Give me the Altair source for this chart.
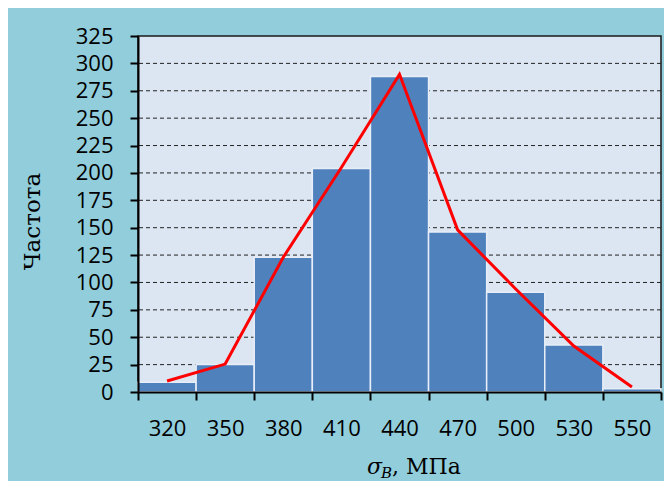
import altair as alt
import pandas as pd

# ---- data ----
categories = ["320", "350", "380", "410", "440", "470", "500", "530", "550"]
frequency = [9, 25, 123, 204, 288, 146, 91, 43, 3]
polygon = [10, 25.5, 123, 205, 290, 148, 94, 42, 4.5]
y_ticks = list(range(0, 326, 25))
grid_values = list(range(25, 301, 25))
y_title = "Частота"
x_title_symbol = "σ"
x_title_sub = "B"
x_title_unit = ", МПа"

df = pd.DataFrame({"sigma": categories, "freq": frequency, "poly": polygon})
grid_df = pd.DataFrame({"g": grid_values})

W, H = 523, 356
LABEL_FONT = "Open Sans"
SERIF = "DejaVu Serif"

yscale = alt.Scale(domain=[0, 325], nice=False, zero=True)
xscale = alt.Scale(paddingInner=0, paddingOuter=0)

x_axis = alt.Axis(
    title=None, labelAngle=0, tickBand="extent", grid=False,
    domainColor="black", domainWidth=2, tickColor="black", tickWidth=2, tickSize=8,
    labelFont=LABEL_FONT, labelFontSize=22, labelColor="black", labelPadding=18,
    zindex=1,
)
y_axis = alt.Axis(
    title=y_title, values=y_ticks, grid=False,
    domainColor="black", domainWidth=2, tickColor="black", tickWidth=2, tickSize=8,
    labelFont=LABEL_FONT, labelFontSize=22, labelColor="black", labelPadding=17,
    titleFont=SERIF, titleFontSize=23, titleFontWeight="normal", titleColor="black",
    titleX=-106, titleY=185, titleAngle=-90, titleAlign="center", titleBaseline="middle",
    zindex=1,
)

x_enc = alt.X("sigma:N", sort=categories, scale=xscale, axis=x_axis)

grid = alt.Chart(grid_df).mark_rule(
    color="#222222", strokeWidth=1, strokeDash=[4, 3]
).encode(y=alt.Y("g:Q", scale=yscale, axis=y_axis))

bars = alt.Chart(df).mark_bar(
    color="#4F81BD", stroke="#E8EEF7", strokeWidth=1.5
).encode(x=x_enc, y=alt.Y("freq:Q", scale=yscale, axis=y_axis))

line = alt.Chart(df).mark_line(
    color="#FF0000", strokeWidth=3
).encode(x=x_enc, y=alt.Y("poly:Q", scale=yscale, axis=y_axis))

sym = alt.Chart(pd.DataFrame({"t": [x_title_symbol]})).mark_text(
    font=SERIF, fontSize=22, fontStyle="italic", align="left", baseline="alphabetic", color="black"
).encode(x=alt.value(229), y=alt.value(438), text="t:N")

sub = alt.Chart(pd.DataFrame({"t": [x_title_sub]})).mark_text(
    font=SERIF, fontSize=15, fontStyle="italic", align="left", baseline="alphabetic", color="black"
).encode(x=alt.value(243), y=alt.value(442), text="t:N")

unit = alt.Chart(pd.DataFrame({"t": [x_title_unit]})).mark_text(
    font=SERIF, fontSize=22, align="left", baseline="alphabetic", color="black"
).encode(x=alt.value(254), y=alt.value(438), text="t:N")

chart = alt.layer(grid, bars, line, sym, sub, unit).properties(
    width=W, height=H,
    padding={"left": 130, "top": 28, "right": 3, "bottom": 89},
    autosize=alt.AutoSizeParams(type="none"),
    background="#92CDDC",
).configure_view(
    fill="#DCE6F2", stroke="#1a1a1a", strokeWidth=1.5
)

chart.save("out.html", embed_options={"renderer": "svg", "actions": False})
